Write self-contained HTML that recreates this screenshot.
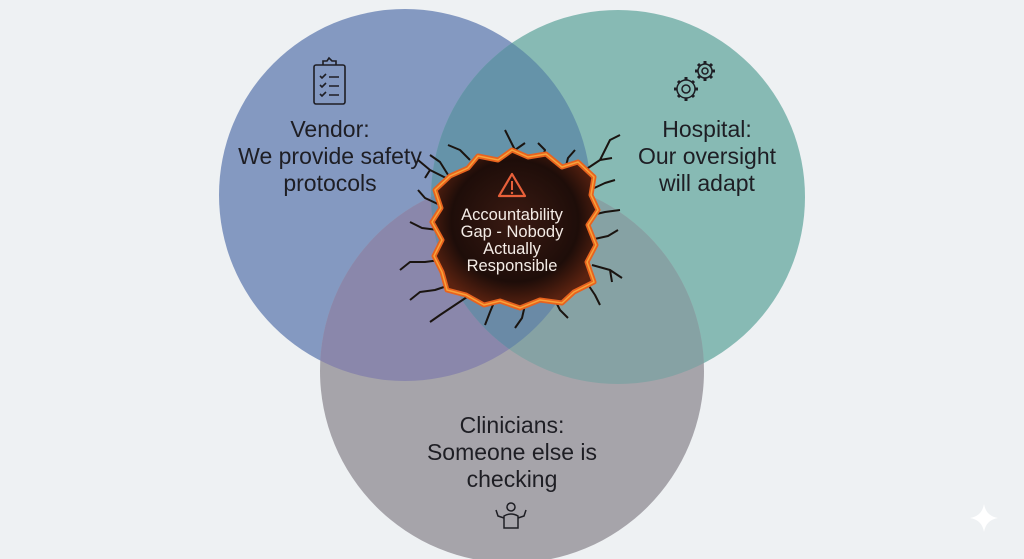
<!DOCTYPE html>
<html><head><style>
html,body{margin:0;padding:0;width:1024px;height:559px;overflow:hidden;background:#eef1f3;}
svg{display:block;font-family:"Liberation Sans",sans-serif;}
</style></head><body>
<svg width="1024" height="559" viewBox="0 0 1024 559">
<defs>
<clipPath id="cV"><circle cx="405" cy="195" r="186"/></clipPath>
<clipPath id="cH"><circle cx="618" cy="197" r="187"/></clipPath>
<radialGradient id="hole" cx="50%" cy="45%" r="55%">
<stop offset="0" stop-color="#3a1a12"/><stop offset="0.7" stop-color="#1e0d09"/><stop offset="1" stop-color="#5a2210"/>
</radialGradient>
</defs>
<rect width="1024" height="559" fill="#eef1f3"/>
<circle cx="405" cy="195" r="186" fill="#8499c1"/>
<circle cx="618" cy="197" r="187" fill="#87bab4"/>
<circle cx="512" cy="371" r="192" fill="#a6a4aa"/>
<g clip-path="url(#cV)"><circle cx="618" cy="197" r="187" fill="#6593a9"/></g>
<g clip-path="url(#cV)"><circle cx="512" cy="371" r="192" fill="#8a87ab"/></g>
<g clip-path="url(#cH)"><circle cx="512" cy="371" r="192" fill="#86a2a4"/></g>
<g clip-path="url(#cH)"><g clip-path="url(#cV)"><circle cx="512" cy="371" r="192" fill="#6a8aa6"/></g></g>

<g stroke="#1a1410" stroke-width="2" fill="none" stroke-linejoin="round">
<path d="M450 180 L430 170 L418 160 M430 170 L425 178"/>
<path d="M450 178 L440 162 L430 155"/>
<path d="M470 160 L460 150 L448 145"/>
<path d="M520 165 L515 150 L510 140 L505 130 M515 150 L525 143"/>
<path d="M540 165 L545 150 L538 143"/>
<path d="M565 170 L568 158 L575 150"/>
<path d="M585 170 L600 160 L605 150 L610 140 L620 135 M600 160 L612 158"/>
<path d="M590 190 L605 183 L615 180"/>
<path d="M592 215 L605 212 L620 210"/>
<path d="M590 240 L608 236 L618 230"/>
<path d="M592 265 L610 270 L622 278 M610 270 L612 282"/>
<path d="M585 280 L595 295 L600 305"/>
<path d="M555 300 L560 310 L568 318"/>
<path d="M525 305 L522 318 L515 328"/>
<path d="M495 300 L490 312 L485 325"/>
<path d="M470 295 L455 305 L440 315 L430 322"/>
<path d="M450 285 L435 290 L420 292 L410 300"/>
<path d="M440 260 L425 262 L410 262 L400 270"/>
<path d="M438 230 L422 228 L410 222"/>
<path d="M440 205 L425 198 L418 190"/>
</g>
<path d="M450 176 L468 168 L478 156 L498 160 L512 150 L528 157 L546 154 L562 167 L578 162 L594 177 L591 195 L598 210 L588 225 L596 245 L587 262 L594 282 L574 292 L562 303 L540 300 L520 308 L500 301 L484 305 L466 295 L447 290 L442 272 L434 256 L442 240 L432 222 L441 208 L435 190 Z" fill="url(#hole)" stroke="#e8631e" stroke-width="5" stroke-linejoin="round"/>
<path d="M450 176 L468 168 L478 156 L498 160 L512 150 L528 157 L546 154 L562 167 L578 162 L594 177 L591 195 L598 210 L588 225 L596 245 L587 262 L594 282 L574 292 L562 303 L540 300 L520 308 L500 301 L484 305 L466 295 L447 290 L442 272 L434 256 L442 240 L432 222 L441 208 L435 190 Z" fill="none" stroke="#f7a23a" stroke-width="1.5"/>
<path d="M512 174 L499 196 L525 196 Z" fill="none" stroke="#e8603a" stroke-width="2.2" stroke-linejoin="round"/>
<line x1="512" y1="181" x2="512" y2="190" stroke="#e8603a" stroke-width="2"/>
<circle cx="512" cy="193" r="1.2" fill="#e8603a"/>
<g fill="#f4ece6" font-size="16.5" text-anchor="middle">
<text x="512" y="220">Accountability</text>
<text x="512" y="237">Gap - Nobody</text>
<text x="512" y="254">Actually</text>
<text x="512" y="271">Responsible</text>
</g>
<g fill="#1e1e24" font-size="23" text-anchor="middle">
<text x="330" y="137">Vendor:</text>
<text x="330" y="164">We provide safety</text>
<text x="330" y="191">protocols</text>
<text x="707" y="137">Hospital:</text>
<text x="707" y="164">Our oversight</text>
<text x="707" y="191">will adapt</text>
<text x="512" y="433">Clinicians:</text>
<text x="512" y="460">Someone else is</text>
<text x="512" y="487">checking</text>
</g>
<g stroke="#1e1e24" stroke-width="1.6" fill="none">
<rect x="314" y="65" width="31" height="39" rx="2"/>
<path d="M323 65 L323 61 L327 61 L329 58 L332 61 L336 61 L336 65"/>
<path d="M320 76 l2 2 l4 -4 M320 85 l2 2 l4 -4 M320 94 l2 2 l4 -4"/>
<path d="M329 77 h10 M329 86 h10 M329 95 h10"/>
</g>
<g stroke="#1e1e24" stroke-width="1.5" fill="none">
<circle cx="686" cy="89" r="9"/><circle cx="686" cy="89" r="4"/>
<circle cx="705" cy="71" r="7"/><circle cx="705" cy="71" r="3"/>
<g stroke-width="3">
<path d="M686 77v3M686 98v3M674 89h3M695 89h3M678 81l2 2M692 95l2 2M678 97l2 -2M692 83l2 -2"/>
<path d="M705 61v3M705 78v3M695 71h3M712 71h3M698 64l2 2M710 76l2 2M698 78l2 -2M710 66l2 -2"/>
</g></g>
<g stroke="#1e1e24" stroke-width="1.5" fill="none">
<circle cx="511" cy="507" r="4"/>
<path d="M504 528 L504 516 Q511 512 518 516 L518 528 Z"/>
<path d="M504 518 L498 516 L496 510 M518 518 L524 516 L526 510"/>
</g>
<path d="M984 504 Q986 516 998 518 Q986 520 984 532 Q982 520 970 518 Q982 516 984 504Z" fill="#ffffff"/>
</svg>
</body></html>
